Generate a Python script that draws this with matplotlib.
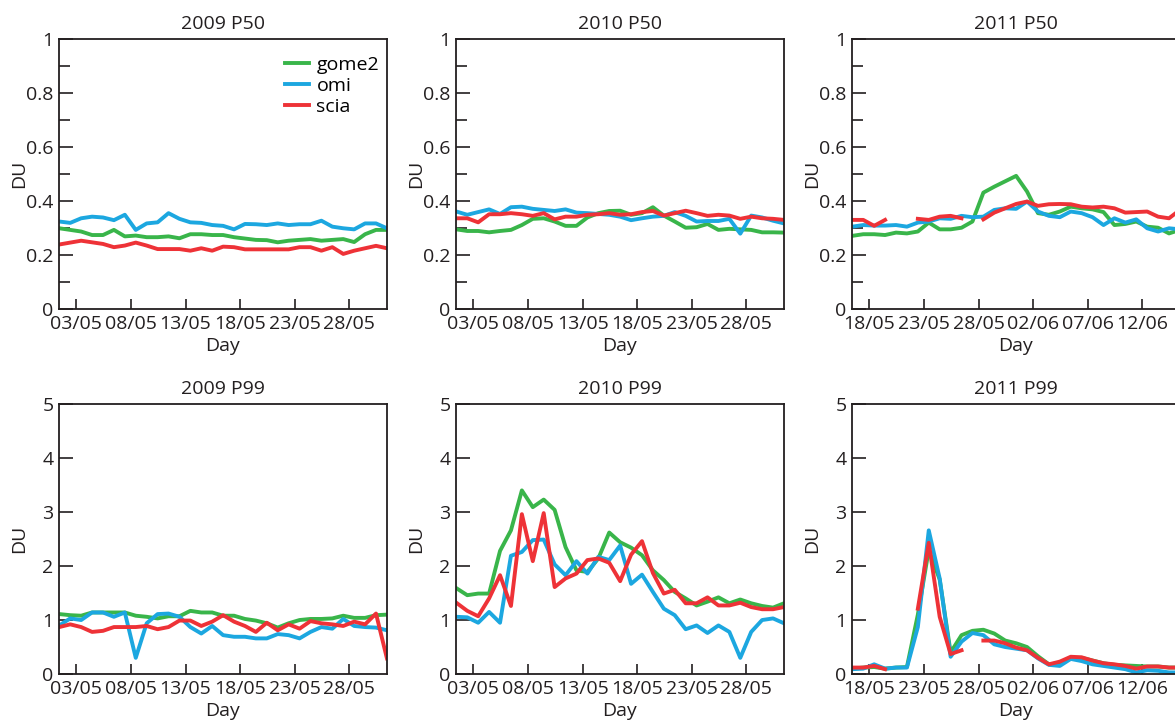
import numpy as np
import matplotlib.pyplot as plt
from matplotlib.ticker import MultipleLocator

plt.rcParams['font.family'] = ['Open Sans', 'DejaVu Sans']

nan = np.nan
green = '#39b54a'
blue = '#1ca7e0'
red = '#ee3237'
dark = '#231f20'
fs = 14

# day of month (May) for 2009/2010, days counted from 1 May for 2011 (16/05 .. 15/06)
days_0910 = np.arange(1, 32)
days_2011 = np.arange(16, 47)
overpass = 0.44  # fraction of day of the overpass time

ticks_0910 = [3, 8, 13, 18, 23, 28]
labels_0910 = ['03/05', '08/05', '13/05', '18/05', '23/05', '28/05']
ticks_2011 = [18, 23, 28, 33, 38, 43]
labels_2011 = ['18/05', '23/05', '28/05', '02/06', '07/06', '12/06']

# ---- 2009 ----
gome2_2009_p50 = [0.300, 0.294, 0.288, 0.275, 0.275, 0.294, 0.270, 0.273, 0.267, 0.267, 0.270,
                  0.263, 0.278, 0.278, 0.275, 0.275, 0.267, 0.262, 0.257, 0.256, 0.248, 0.254,
                  0.257, 0.260, 0.254, 0.257, 0.260, 0.249, 0.278, 0.294, 0.294]
omi_2009_p50 = [0.325, 0.320, 0.337, 0.343, 0.340, 0.330, 0.350, 0.294, 0.318, 0.322, 0.356,
                0.335, 0.322, 0.320, 0.312, 0.309, 0.296, 0.316, 0.315, 0.312, 0.318, 0.312,
                0.315, 0.315, 0.328, 0.306, 0.300, 0.296, 0.318, 0.318, 0.300]
scia_2009_p50 = [0.240, 0.247, 0.254, 0.248, 0.242, 0.230, 0.236, 0.247, 0.236, 0.223, 0.223,
                 0.223, 0.217, 0.226, 0.217, 0.232, 0.230, 0.222, 0.222, 0.222, 0.222, 0.222,
                 0.230, 0.230, 0.217, 0.230, 0.205, 0.217, 0.226, 0.235, 0.226]

gome2_2009_p99 = [1.11, 1.09, 1.08, 1.14, 1.14, 1.14, 1.14, 1.08, 1.06, 1.03, 1.07,
                  1.07, 1.17, 1.14, 1.14, 1.08, 1.08, 1.02, 0.99, 0.94, 0.86, 0.94,
                  1.00, 1.02, 1.02, 1.03, 1.08, 1.04, 1.04, 1.09, 1.10]
omi_2009_p99 = [0.90, 1.03, 1.00, 1.14, 1.14, 1.06, 1.14, 0.30, 0.94, 1.11, 1.12,
                1.06, 0.87, 0.75, 0.89, 0.72, 0.69, 0.69, 0.66, 0.66, 0.74, 0.72,
                0.66, 0.78, 0.87, 0.84, 1.02, 0.89, 0.87, 0.86, 0.81]
scia_2009_p99 = [0.87, 0.92, 0.87, 0.78, 0.80, 0.87, 0.87, 0.87, 0.89, 0.83, 0.87,
                 0.99, 0.99, 0.89, 0.97, 1.09, 0.97, 0.89, 0.78, 0.95, 0.81, 0.92,
                 0.84, 0.98, 0.94, 0.92, 0.89, 0.97, 0.92, 1.12, 0.29]

# ---- 2010 ----
gome2_2010_p50 = [0.296, 0.290, 0.290, 0.285, 0.290, 0.294, 0.312, 0.335, 0.337, 0.325, 0.309,
                  0.309, 0.340, 0.356, 0.364, 0.365, 0.350, 0.356, 0.378, 0.347, 0.325, 0.302,
                  0.304, 0.316, 0.294, 0.298, 0.296, 0.294, 0.285, 0.285, 0.284]
omi_2010_p50 = [0.362, 0.350, 0.360, 0.370, 0.353, 0.378, 0.380, 0.372, 0.368, 0.364, 0.370,
                0.358, 0.356, 0.353, 0.350, 0.343, 0.330, 0.337, 0.343, 0.346, 0.360, 0.346,
                0.325, 0.327, 0.327, 0.335, 0.280, 0.347, 0.340, 0.328, 0.318]
scia_2010_p50 = [0.337, 0.337, 0.322, 0.352, 0.352, 0.356, 0.352, 0.346, 0.356, 0.333, 0.343,
                 0.343, 0.350, 0.352, 0.356, 0.350, 0.352, 0.360, 0.364, 0.347, 0.356, 0.365,
                 0.356, 0.346, 0.350, 0.347, 0.335, 0.343, 0.337, 0.335, 0.331]

gome2_2010_p99 = [1.59, 1.46, 1.49, 1.49, 2.28, 2.66, 3.40, 3.09, 3.23, 3.04, 2.35,
                  1.92, 1.89, 2.14, 2.62, 2.44, 2.34, 2.20, 1.92, 1.74, 1.52, 1.40,
                  1.27, 1.34, 1.42, 1.31, 1.38, 1.31, 1.26, 1.23, 1.31]
omi_2010_p99 = [1.06, 1.05, 0.95, 1.15, 0.95, 2.19, 2.26, 2.48, 2.49, 2.03, 1.83,
                2.09, 1.86, 2.17, 2.11, 2.38, 1.67, 1.84, 1.52, 1.21, 1.09, 0.83,
                0.90, 0.76, 0.90, 0.78, 0.30, 0.78, 1.00, 1.03, 0.94]
scia_2010_p99 = [1.32, 1.17, 1.07, 1.40, 1.83, 1.26, 2.96, 2.09, 2.98, 1.61, 1.77,
                 1.86, 2.11, 2.14, 2.06, 1.72, 2.21, 2.46, 1.87, 1.49, 1.56, 1.31,
                 1.31, 1.42, 1.27, 1.27, 1.32, 1.24, 1.20, 1.20, 1.24]

# ---- 2011 ----
gome2_2011_p50 = [0.272, 0.278, 0.278, 0.275, 0.284, 0.281, 0.288, 0.321, 0.296, 0.296, 0.302,
                  0.325, 0.432, 0.454, 0.474, 0.494, 0.436, 0.356, 0.350, 0.362, 0.380, 0.374,
                  0.370, 0.360, 0.312, 0.316, 0.325, 0.306, 0.302, 0.281, 0.294]
omi_2011_p50 = [0.306, 0.312, 0.310, 0.310, 0.312, 0.306, 0.321, 0.325, 0.337, 0.335, 0.346,
                0.341, 0.343, 0.368, 0.374, 0.372, 0.399, 0.362, 0.346, 0.341, 0.362, 0.356,
                0.341, 0.312, 0.337, 0.321, 0.333, 0.300, 0.288, 0.300, 0.296]
scia_2011_p50 = [0.331, 0.331, 0.309, 0.331, nan, nan, 0.335, 0.331, 0.343, 0.346, 0.337,
                 nan, 0.333, 0.358, 0.374, 0.390, 0.399, 0.383, 0.389, 0.390, 0.389, 0.380,
                 0.377, 0.380, 0.374, 0.358, 0.360, 0.362, 0.343, 0.337, 0.368]

gome2_2011_p99 = [0.10, 0.12, 0.13, 0.10, 0.12, 0.13, 1.10, 2.30, 1.75, 0.40, 0.72,
                  0.80, 0.82, 0.75, 0.62, 0.57, 0.50, 0.33, 0.18, 0.20, 0.30, 0.30,
                  0.25, 0.20, 0.17, 0.16, 0.15, 0.14, 0.14, 0.12, 0.12]
omi_2011_p99 = [0.09, 0.10, 0.18, 0.10, 0.12, 0.12, 0.87, 2.66, 1.77, 0.32, 0.60,
                0.76, 0.72, 0.55, 0.50, 0.47, 0.44, 0.29, 0.17, 0.15, 0.28, 0.24,
                0.18, 0.15, 0.12, 0.09, 0.03, 0.07, 0.06, 0.03, 0.03]
scia_2011_p99 = [0.12, 0.12, 0.15, 0.09, nan, nan, 1.21, 2.43, 1.06, 0.37, 0.44,
                 nan, 0.62, 0.62, 0.57, 0.49, 0.44, 0.30, 0.18, 0.23, 0.32, 0.31,
                 0.25, 0.20, 0.18, 0.15, 0.10, 0.14, 0.14, 0.12, 0.12]

panels = [
    ('2009 P50', days_0910, ticks_0910, labels_0910, gome2_2009_p50, omi_2009_p50, scia_2009_p50),
    ('2010 P50', days_0910, ticks_0910, labels_0910, gome2_2010_p50, omi_2010_p50, scia_2010_p50),
    ('2011 P50', days_2011, ticks_2011, labels_2011, gome2_2011_p50, omi_2011_p50, scia_2011_p50),
    ('2009 P99', days_0910, ticks_0910, labels_0910, gome2_2009_p99, omi_2009_p99, scia_2009_p99),
    ('2010 P99', days_0910, ticks_0910, labels_0910, gome2_2010_p99, omi_2010_p99, scia_2010_p99),
    ('2011 P99', days_2011, ticks_2011, labels_2011, gome2_2011_p99, omi_2011_p99, scia_2011_p99),
]

fig = plt.figure(figsize=(11.75, 7.24), dpi=100)
lefts = [0.0502, 0.3881, 0.7251]
bottoms = [0.5728, 0.069]
w, h = 0.2791, 0.373

for n, (title, days, ticks, labels, g, o, s) in enumerate(panels):
    row, col = divmod(n, 3)
    ax = fig.add_axes([lefts[col], bottoms[row], w, h])
    x = days + overpass
    ax.plot(x, g, color=green, lw=2.8, label='gome2')
    ax.plot(x, o, color=blue, lw=2.8, label='omi')
    ax.plot(x, s, color=red, lw=2.8, label='scia')
    ax.set_xlim(days[0] + 0.41, days[-1] + 0.44)
    ax.set_xticks(ticks)
    ax.set_xticklabels(labels)
    if row == 0:
        ax.set_ylim(0, 1)
        ax.set_yticks([0, 0.2, 0.4, 0.6, 0.8, 1])
        ax.set_yticklabels(['0', '0.2', '0.4', '0.6', '0.8', '1'])
        ax.yaxis.set_minor_locator(MultipleLocator(0.1))
    else:
        ax.set_ylim(0, 5)
        ax.set_yticks([0, 1, 2, 3, 4, 5])
    ax.tick_params(axis='y', which='major', direction='in', length=10, width=1.2,
                   colors=dark, labelsize=fs, pad=4)
    ax.tick_params(axis='y', which='minor', direction='in', length=8, width=1.2, colors=dark)
    ax.tick_params(axis='x', which='major', direction='in', length=7, width=1.2,
                   colors=dark, labelsize=fs, pad=4)
    for sp in ax.spines.values():
        sp.set_linewidth(1.3)
        sp.set_color(dark)
    ax.set_title(title, fontsize=fs, color=dark, pad=7.5)
    ax.set_xlabel('Day', fontsize=fs, color=dark, labelpad=3)
    ax.set_ylabel('DU', fontsize=fs, color=dark)
    ax.yaxis.set_label_coords(-0.095, 0.5)
    if n == 0:
        ax.legend(loc='upper left', bbox_to_anchor=(0.69, 0.937), frameon=False,
                  fontsize=fs, handlelength=1.2, handletextpad=0.4,
                  labelspacing=0.15, borderaxespad=0, borderpad=0)

fig.savefig('out.png', dpi=100)
